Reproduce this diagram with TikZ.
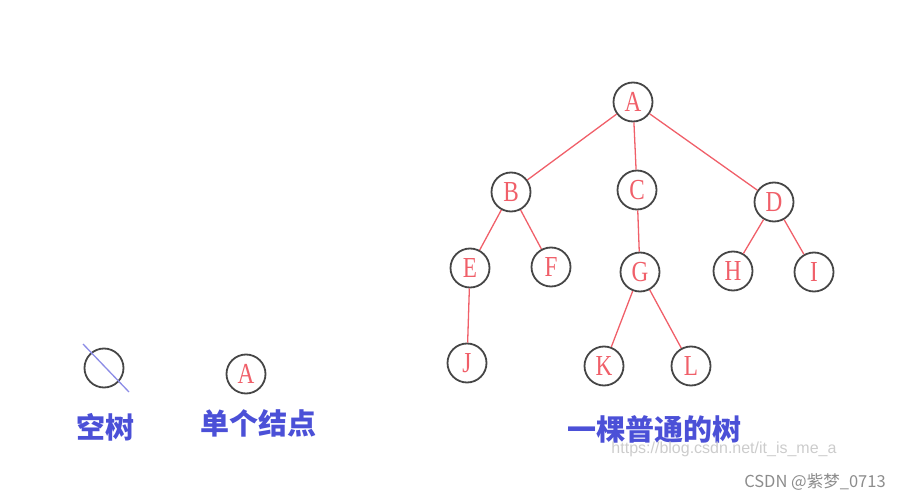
\documentclass[tikz,border=0pt]{standalone}
\usepackage{fontspec}
\setmainfont{Liberation Serif}
\newfontfamily\cjk{Noto Sans CJK SC}
\newfontfamily\wmfont{Liberation Sans}
\newfontfamily\letterfont{Liberation Serif}[FakeStretch=0.8]
\usetikzlibrary{positioning,calc}
\definecolor{TreeRed}{RGB}{240,95,105}
\definecolor{RingGray}{RGB}{70,70,70}
\definecolor{CapBlue}{RGB}{75,80,215}
\definecolor{SlashBlue}{RGB}{140,140,230}
\tikzset{
	v/.style={circle,draw=RingGray,fill=white,line width=1.8pt,minimum size=39pt,inner sep=0pt,
		text=TreeRed,font=\letterfont\fontsize{29}{29}\selectfont},
	edge/.style={draw=TreeRed,line width=1.3pt},
	caption/.style={text=CapBlue,font=\cjk\bfseries\fontsize{29}{29}\selectfont},
	watermark/.style={text=black!35,font=\wmfont\fontsize{16}{16}\selectfont},
}

\begin{document}
\begin{tikzpicture}[x=1pt,y=-1pt]
			\useasboundingbox (0,0) rectangle (903,500);
			% empty tree and single node
			\node[v] (empty) at (104,368) {};
			\coordinate (s1) at (83,344);
			\coordinate (s2) at (129,392);
			\draw[draw=SlashBlue,line width=1.3pt] (s1)--(s2);
			\node[v] (single) at (246,374) {A};
			\node[caption] (capEmpty) at (105,427) {空树};
			\node[caption] (capSingle) at (258,423) {单个结点};
			% an ordinary tree
			\node[v] (A) at (633,102) {A};
			\node[v] (B) at (511,192) {B};
			\node[v] (C) at (637,190) {C};
			\node[v] (D) at (774,202) {D};
			\node[v] (E) at (470,268) {E};
			\node[v] (F) at (551,267) {F};
			\node[v] (G) at (640,272) {G};
			\node[v] (H) at (733,271) {H};
			\node[v] (I) at (814,272) {I};
			\node[v] (J) at (467,363) {J};
			\node[v] (K) at (604,366) {K};
			\node[v] (L) at (691,366) {L};
			\draw[edge] (A)--(B);
			\draw[edge] (A)--(C);
			\draw[edge] (A)--(D);
			\draw[edge] (B)--(E);
			\draw[edge] (B)--(F);
			\draw[edge] (C)--(G);
			\draw[edge] (D)--(H);
			\draw[edge] (D)--(I);
			\draw[edge] (E)--(J);
			\draw[edge] (G)--(K);
			\draw[edge] (G)--(L);
			\node[caption] (capTree) at (654,429) {一棵普通的树};
			% watermarks
			\node[watermark,text=black!20] (url) at (724,449) {https://blog.csdn.net/it\_is\_me\_a};
			\node[watermark,font=\cjk\fontsize{16.5}{16.5}\selectfont,text=black!45] (sign) at (815,482) {CSDN @紫梦\_0713};
		\end{tikzpicture}
\end{document}
